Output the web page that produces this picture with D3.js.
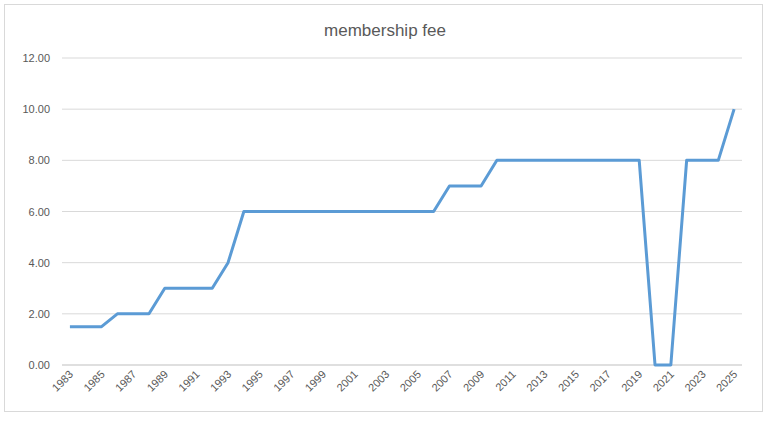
<!DOCTYPE html>
<html><head><meta charset="utf-8">
<script src="https://cdn.jsdelivr.net/npm/d3@7"></script>
<style>body{margin:0;background:#fff}</style>
</head><body><svg id="c" width="782" height="426"></svg>
<script>
const years = d3.range(1983, 2026);
const fees = [1.5,1.5,1.5,2,2,2,3,3,3,3,4,6,6,6,6,6,6,6,6,6,6,6,6,6,7,7,7,8,8,8,8,8,8,8,8,8,8,0,0,8,8,8,10];
const yTicks = [0,2,4,6,8,10,12];

const svg = d3.select("#c");
svg.append("rect").attr("x",4.5).attr("y",4.5).attr("width",758).attr("height",407)
  .attr("fill","#fff").attr("stroke","#d9d9d9");

const x = d3.scaleBand().domain(years).range([62,742]);
const y = d3.scaleLinear().domain([0,12]).range([365,58]);

svg.append("g").selectAll("line").data(yTicks.slice(1)).join("line")
  .attr("x1",62).attr("x2",742).attr("y1",d=>y(d)).attr("y2",d=>y(d))
  .attr("stroke","#d9d9d9");
svg.append("line").attr("x1",62).attr("x2",742).attr("y1",y(0)).attr("y2",y(0)).attr("stroke","#bfbfbf");

svg.append("g").selectAll("text").data(yTicks).join("text")
  .attr("x",50).attr("y",d=>y(d)+4).attr("text-anchor","end")
  .attr("font-family","Liberation Sans, sans-serif").attr("font-size",11).attr("fill","#595959")
  .text(d=>d.toFixed(2));

svg.append("g").selectAll("text").data(years.filter((d,i)=>i%2===0)).join("text")
  .attr("transform",d=>`translate(${x(d)+x.bandwidth()/2+4},${y(0)+10}) rotate(-45)`)
  .attr("text-anchor","end")
  .attr("font-family","Liberation Sans, sans-serif").attr("font-size",11).attr("fill","#595959")
  .text(d=>d);

svg.append("path").datum(years.map((d,i)=>[d,fees[i]]))
  .attr("fill","none").attr("stroke","#5b9bd5").attr("stroke-width",3).attr("stroke-linejoin","round")
  .attr("d",d3.line().x(d=>x(d[0])+x.bandwidth()/2).y(d=>y(d[1])));

svg.append("text").attr("x",385).attr("y",36).attr("text-anchor","middle")
  .attr("font-family","Liberation Sans, sans-serif").attr("font-size",17).attr("fill","#595959")
  .text("membership fee");
</script></body></html>
